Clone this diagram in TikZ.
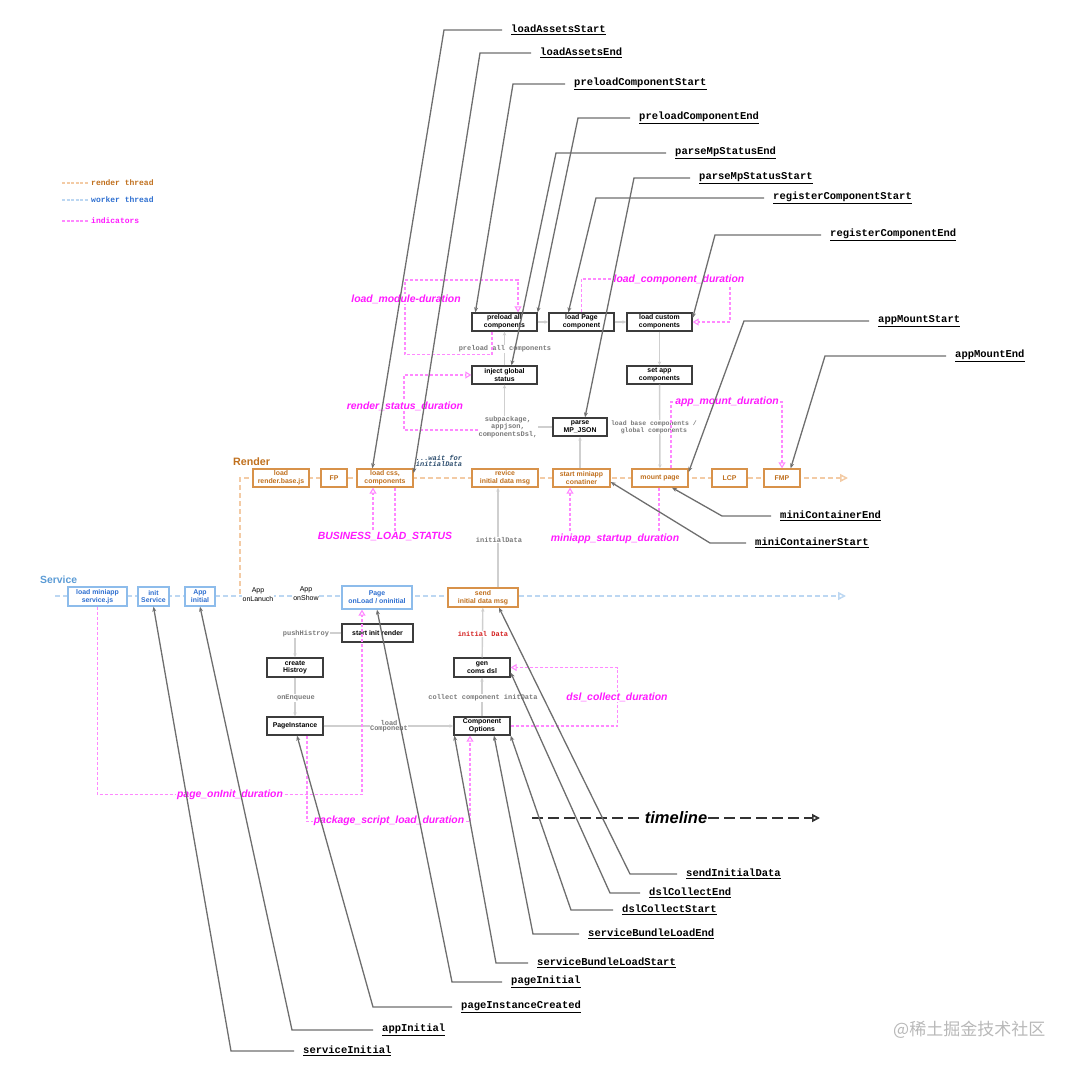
\documentclass[tikz,border=0pt]{standalone}
\usepackage{fontspec}
\setmainfont{Liberation Sans}
\setsansfont{Liberation Sans}
\setmonofont{Liberation Mono}
\newfontfamily\cjkfont{Noto Sans CJK SC}
\usetikzlibrary{arrows.meta,backgrounds,calc}
\definecolor{rline}{HTML}{F3CBA5}
\definecolor{rtext}{HTML}{C0701E}
\definecolor{rborder}{HTML}{D8924A}
\definecolor{sline}{HTML}{BCD7F2}
\definecolor{stext}{HTML}{2E6FD0}
\definecolor{sborder}{HTML}{8DBCEB}
\definecolor{slabel}{HTML}{5B9BD5}
\definecolor{mag}{HTML}{FF1AFF}
\definecolor{magline}{HTML}{FF88FF}
\definecolor{gline}{HTML}{CFCFCF}
\definecolor{gtext}{HTML}{7A7A7A}
\definecolor{lead}{HTML}{6E6E6E}
\definecolor{boxb}{HTML}{3C3C3C}
\definecolor{waittext}{HTML}{2F4F6F}
\definecolor{redtext}{HTML}{D42020}
\tikzset{
 bx/.style={draw=boxb, line width=1.3pt, fill=white, align=center, inner sep=0pt,
   font=\sffamily\bfseries\fontsize{6.9}{7.9}\selectfont, minimum height=18pt},
 rbx/.style={bx, draw=rborder, text=rtext},
 sbx/.style={bx, draw=sborder, text=stext},
 gc/.style={draw=gline, line width=1.4pt, -{Stealth[length=4pt,width=3.5pt]}},
 ind/.style={draw=magline, line width=1.1pt, dash pattern=on 3pt off 2pt, -{Triangle[open,length=6pt,width=7pt]}},
 indlbl/.style={font=\sffamily\bfseries\itshape\fontsize{10.4}{12}\selectfont, text=mag, fill=white, inner sep=1pt},
 gl/.style={font=\ttfamily\bfseries\fontsize{7}{5.2}\selectfont, text=gtext, fill=white, inner sep=0.5pt, align=center},
 lbl/.style={anchor=west, inner sep=0pt, font=\ttfamily\bfseries\fontsize{10.5}{12}\selectfont},
 ld/.style={draw=lead, line width=1.3pt, shorten <=9pt, -{Stealth[length=5pt,width=4pt]}},
 axis/.style={line width=1.5pt, dash pattern=on 5pt off 3pt, -{Triangle[open,length=8pt,width=8pt]}},
 legline/.style={line width=1.2pt, dash pattern=on 3pt off 1.5pt},
 legtext/.style={anchor=west, inner sep=0pt, font=\ttfamily\bfseries\fontsize{8}{9}\selectfont},
 plain/.style={font=\sffamily\fontsize{7}{9}\selectfont, fill=white, inner sep=0.5pt, align=center},
}
\begin{document}
\begin{tikzpicture}[x=1pt,y=-1pt]
\path[use as bounding box] (0,0) rectangle (1080,1067);

% ---------- legend ----------
\coordinate (lg1a) at (62,183); \coordinate (lg1b) at (88,183);
\coordinate (lg2a) at (62,200); \coordinate (lg2b) at (88,200);
\coordinate (lg3a) at (62,221); \coordinate (lg3b) at (88,221);
\draw[legline, draw=rline] (lg1a) -- (lg1b);
\draw[legline, draw=sline] (lg2a) -- (lg2b);
\draw[legline, draw=magline] (lg3a) -- (lg3b);
\node[legtext, text=rtext] (leg1) at (91,183) {render thread};
\node[legtext, text=stext] (leg2) at (91,200) {worker thread};
\node[legtext, text=mag] (leg3) at (91,221) {indicators};

% ---------- lane titles ----------
\node[anchor=west, inner sep=0pt, font=\sffamily\bfseries\fontsize{10.7}{12}\selectfont, text=rtext] (renderT) at (233,462) {Render};
\node[anchor=west, inner sep=0pt, font=\sffamily\bfseries\fontsize{10.4}{12}\selectfont, text=slabel] (serviceT) at (40,580) {Service};

% ---------- render row ----------
\node[rbx, minimum width=56pt] (rLoad) at (281,478) {load\\render.base.js};
\node[rbx, minimum width=26pt] (rFP) at (334,478) {FP};
\node[rbx, minimum width=56pt] (rCss) at (385,478) {load css,\\components};
\node[rbx, minimum width=66pt] (rRevice) at (505,478) {revice\\initial data msg};
\node[rbx, minimum width=57pt] (rStart) at (581.5,478) {start miniapp\\conatiner};
\node[rbx, minimum width=56pt] (rMount) at (660,478) {mount page};
\node[rbx, minimum width=35pt] (rLCP) at (729.5,478) {LCP};
\node[rbx, minimum width=36pt] (rFMP) at (782,478) {FMP};

% ---------- service row ----------
\node[sbx, minimum width=59pt, minimum height=19pt] (sLoad) at (97.5,596.5) {load miniapp\\service.js};
\node[sbx, minimum width=31pt, minimum height=19pt] (sInit) at (153.5,596.5) {init\\Service};
\node[sbx, minimum width=30pt, minimum height=19pt] (sApp) at (200,596.5) {App\\initial};
\node[sbx, minimum width=70pt, minimum height=23pt] (sPage) at (377,597.5) {Page\\onLoad / oninitial};
\node[rbx, minimum width=70pt, minimum height=19pt] (sSend) at (483,597.5) {send\\initial data msg};
\node[plain] (tLaunch) at (258,594.5) {App\\onLanuch};
\node[plain] (tShow) at (306,593.5) {App\\onShow};

% ---------- lower boxes ----------
\node[bx, minimum width=71pt] (startInit) at (377.5,633) {start init render};
\node[bx, minimum width=56pt, minimum height=19pt] (createH) at (295,667.5) {create\\Histroy};
\node[bx, minimum width=56pt] (pageInst) at (295,726) {PageInstance};
\node[bx, minimum width=56pt] (compOpt) at (482,726) {Component\\Options};
\node[bx, minimum width=56pt, minimum height=19pt] (genDsl) at (482,667.5) {gen\\coms dsl};

% ---------- upper boxes ----------
\node[bx, minimum width=65pt] (preload) at (504.5,322) {preload all\\components};
\node[bx, minimum width=65pt] (loadPage) at (581.5,322) {load Page\\component};
\node[bx, minimum width=65pt] (loadCustom) at (659.5,322) {load custom\\components};
\node[bx, minimum width=65pt] (inject) at (504.5,375) {inject global\\status};
\node[bx, minimum width=65pt] (setApp) at (659.5,375) {set app\\components};
\node[bx, minimum width=54pt] (parse) at (580,427) {parse\\MP\_JSON};

% ---------- axes (behind) ----------
\begin{scope}[on background layer]
\coordinate (rAx0) at (240,594); \coordinate (rAx1) at (240,478); \coordinate (rAxE) at (848,478);
\draw[axis, draw=rline] (rAx0) -- (rAx1) -- (rAxE);
\coordinate (sAx0) at (55,596); \coordinate (sAxE) at (846,596);
\draw[axis, draw=sline] (sAx0) -- (sAxE);
\end{scope}

% ---------- gray connectors ----------
\draw[gc] (preload) -- (loadPage);
\draw[gc] (loadPage) -- (loadCustom);
\draw[gc] (loadCustom) -- (setApp);
\draw[gc] (setApp) -- (rMount);
\draw[gc] (inject) -- (preload);
\draw[gc] (parse.west) -| (inject.south);
\draw[gc] (rStart.north -| parse.south) -- (parse.south);
\draw[gc] (startInit.west) -| (createH.north);
\draw[gc] (createH) -- (pageInst);
\draw[gc] (pageInst) -- (compOpt);
\draw[gc] (compOpt) -- (genDsl);
\draw[gc] (genDsl) -- (sSend);
\draw[gc] ([xshift=15pt]sSend.north) -- ([xshift=-7pt]rRevice.south);

\node[gl] (tPreloadAll) at (505,349) {preload all components};
\node[gl] (tSubpkg) at (508,427) {subpackage,\\appjson,\\componentsDsl,};
\node[gl, font=\ttfamily\bfseries\fontsize{6.5}{6}\selectfont] (tBase) at (654,427) {load base components /\\global components};
\node[gl] (tPush) at (306,634) {pushHistroy};
\node[gl] (tEnq) at (296,698) {onEnqueue};
\node[gl] (tLoadComp) at (389,726.5) {load\\Component};
\node[gl] (tCollect) at (483,698) {collect component initData};
\node[gl, text=redtext] (tInitData) at (483,634) {initial Data};
\node[gl] (tInitialData) at (499,540) {initialData};
\node[gl, fill=none, text=waittext, font=\ttfamily\bfseries\itshape\fontsize{7}{5.2}\selectfont] (tWait) at (439,461) {...wait for\\initialData};

% ---------- indicators ----------
\coordinate (lmC) at (405,280);
\draw[ind] ([xshift=-12.5pt]preload.south) -- ++(0,23) -| (lmC) -| ([xshift=13.5pt]preload.north);
\coordinate (rsS) at (478,430); \coordinate (rsC) at (404,375);
\draw[ind] (rsS) -| (rsC) -- (inject.west);
\coordinate (lcC) at (730,279);
\draw[ind] (loadPage.north) |- (lcC) |- (loadCustom.east);
\coordinate (amC) at (782,402);
\draw[ind] ([xshift=11pt]rMount.north) |- (amC) -- (rFMP.north);
\draw[ind] ([xshift=10pt]rCss.south) -- ++(0,50) -| ([xshift=-12pt]rCss.south);
\draw[ind] ([xshift=-1pt]rMount.south) -- ++(0,52) -| ([xshift=-11.5pt]rStart.south);
\draw[ind] (sLoad.south) -- ++(0,188) -| ([xshift=-15pt]sPage.south);
\draw[ind] ([xshift=12pt]pageInst.south) -- ++(0,86) -| ([xshift=-12pt]compOpt.south);
\draw[ind] (compOpt.east) -- ++(107,0) |- (genDsl.east);

\node[indlbl] (iLM) at (406,299) {load\_module-duration};
\node[indlbl] (iRS) at (405,406) {render\_status\_duration};
\node[indlbl] (iLC) at (679,280) {load\_component\_duration};
\node[indlbl] (iAM) at (727,402) {app\_mount\_duration};
\node[indlbl] (iBL) at (385,537) {BUSINESS\_LOAD\_STATUS};
\node[indlbl] (iMS) at (615,539) {miniapp\_startup\_duration};
\node[indlbl] (iPO) at (230,795) {page\_onInit\_duration};
\node[indlbl] (iPS) at (389,821) {package\_script\_load\_duration};
\node[indlbl] (iDC) at (617,697) {dsl\_collect\_duration};

% ---------- timeline ----------
\coordinate (tl0) at (532,818); \coordinate (tl1) at (820,818);
\draw[line width=1.7pt, draw=black!80, dash pattern=on 11pt off 5pt, -{Triangle[open,length=8pt,width=8pt]}] (tl0) -- (tl1);
\node[fill=white, inner sep=1pt, font=\sffamily\bfseries\itshape\fontsize{16.5}{18}\selectfont] (tlT) at (676,818) {timeline};

% ---------- leader labels ----------
\node[lbl] (l1) at (511,30) {\underline{loadAssetsStart}};
\node[lbl] (l2) at (540,53) {\underline{loadAssetsEnd}};
\node[lbl] (l3) at (574,84) {\underline{preloadComponentStart}};
\node[lbl] (l4) at (639,118) {\underline{preloadComponentEnd}};
\node[lbl] (l5) at (675,153) {\underline{parseMpStatusEnd}};
\node[lbl] (l6) at (699,178) {\underline{parseMpStatusStart}};
\node[lbl] (l7) at (773,198) {\underline{registerComponentStart}};
\node[lbl] (l8) at (830,235) {\underline{registerComponentEnd}};
\node[lbl] (l9) at (878,321) {\underline{appMountStart}};
\node[lbl] (l10) at (955,356) {\underline{appMountEnd}};
\node[lbl] (l11) at (780,516) {\underline{miniContainerEnd}};
\node[lbl] (l12) at (755,543) {\underline{miniContainerStart}};
\node[lbl] (l13) at (686,874) {\underline{sendInitialData}};
\node[lbl] (l14) at (649,893) {\underline{dslCollectEnd}};
\node[lbl] (l15) at (622,910) {\underline{dslCollectStart}};
\node[lbl] (l16) at (588,934) {\underline{serviceBundleLoadEnd}};
\node[lbl] (l17) at (537,963) {\underline{serviceBundleLoadStart}};
\node[lbl] (l18) at (511,982) {\underline{pageInitial}};
\node[lbl] (l19) at (461,1007) {\underline{pageInstanceCreated}};
\node[lbl] (l20) at (382,1030) {\underline{appInitial}};
\node[lbl] (l21) at (303,1051) {\underline{serviceInitial}};

\coordinate (c1) at (444,30);
\coordinate (c2) at (480,53);
\coordinate (c3) at (513,84);
\coordinate (c4) at (578,118);
\coordinate (c5) at (556,153);
\coordinate (c6) at (634,178);
\coordinate (c7) at (596,198);
\coordinate (c8) at (715,235);
\coordinate (c9) at (744,321);
\coordinate (c10) at (825,356);
\coordinate (c11) at (722,516);
\coordinate (c12) at (710,543);
\coordinate (c13) at (630,874);
\coordinate (c14) at (610,893);
\coordinate (c15) at (571,910);
\coordinate (c16) at (533,934);
\coordinate (c17) at (496,963);
\coordinate (c18) at (452,982);
\coordinate (c19) at (373,1007);
\coordinate (c20) at (292,1030);
\coordinate (c21) at (231,1051);

\draw[ld] (l1.west) -- (c1) -- ([xshift=16pt]rCss.north west);
\draw[ld] (l2.west) -- (c2) -- ([yshift=5pt]rCss.east);
\draw[ld] (l3.west) -- (c3) -- ([xshift=4pt]preload.north west);
\draw[ld] (l4.west) -- (c4) -- (preload.north east);
\draw[ld] (l5.west) -- (c5) -- ([xshift=7pt]inject.north);
\draw[ld] (l6.west) -- (c6) -- ([xshift=5pt]parse.north);
\draw[ld] (l7.west) -- (c7) -- ([xshift=20pt]loadPage.north west);
\draw[ld] (l8.west) -- (c8) -- ([yshift=4pt]loadCustom.east);
\draw[ld] (l9.west) -- (c9) -- ([yshift=6pt]rMount.east);
\draw[ld] (l10.west) -- (c10) -- ([xshift=-10pt]rFMP.north east);
\draw[ld] (l11.west) -- (c11) -- ([xshift=12pt]rMount.south);
\draw[ld] (l12.west) -- (c12) -- ([yshift=-4pt]rStart.east);
\draw[ld] (l13.west) -- (c13) -- ([xshift=16pt]sSend.south);
\draw[ld] (l14.west) -- (c14) -- ([yshift=-5pt]genDsl.east);
\draw[ld] (l15.west) -- (c15) -- (compOpt.south east);
\draw[ld] (l16.west) -- (c16) -- ([xshift=12pt]compOpt.south);
\draw[ld] (l17.west) -- (c17) -- ([xshift=1pt]compOpt.south west);
\draw[ld] (l18.west) -- (c18) -- (sPage.south);
\draw[ld] (l19.west) -- (c19) -- ([xshift=2pt]pageInst.south);
\draw[ld] (l20.west) -- (c20) -- (sApp.south);
\draw[ld] (l21.west) -- (c21) -- (sInit.south);

% ---------- watermark ----------
\node[anchor=west, inner sep=0pt, font=\cjkfont\fontsize{17}{20}\selectfont, text=black!28] (wm) at (893,1030) {@稀土掘金技术社区};
\end{tikzpicture}
\end{document}
